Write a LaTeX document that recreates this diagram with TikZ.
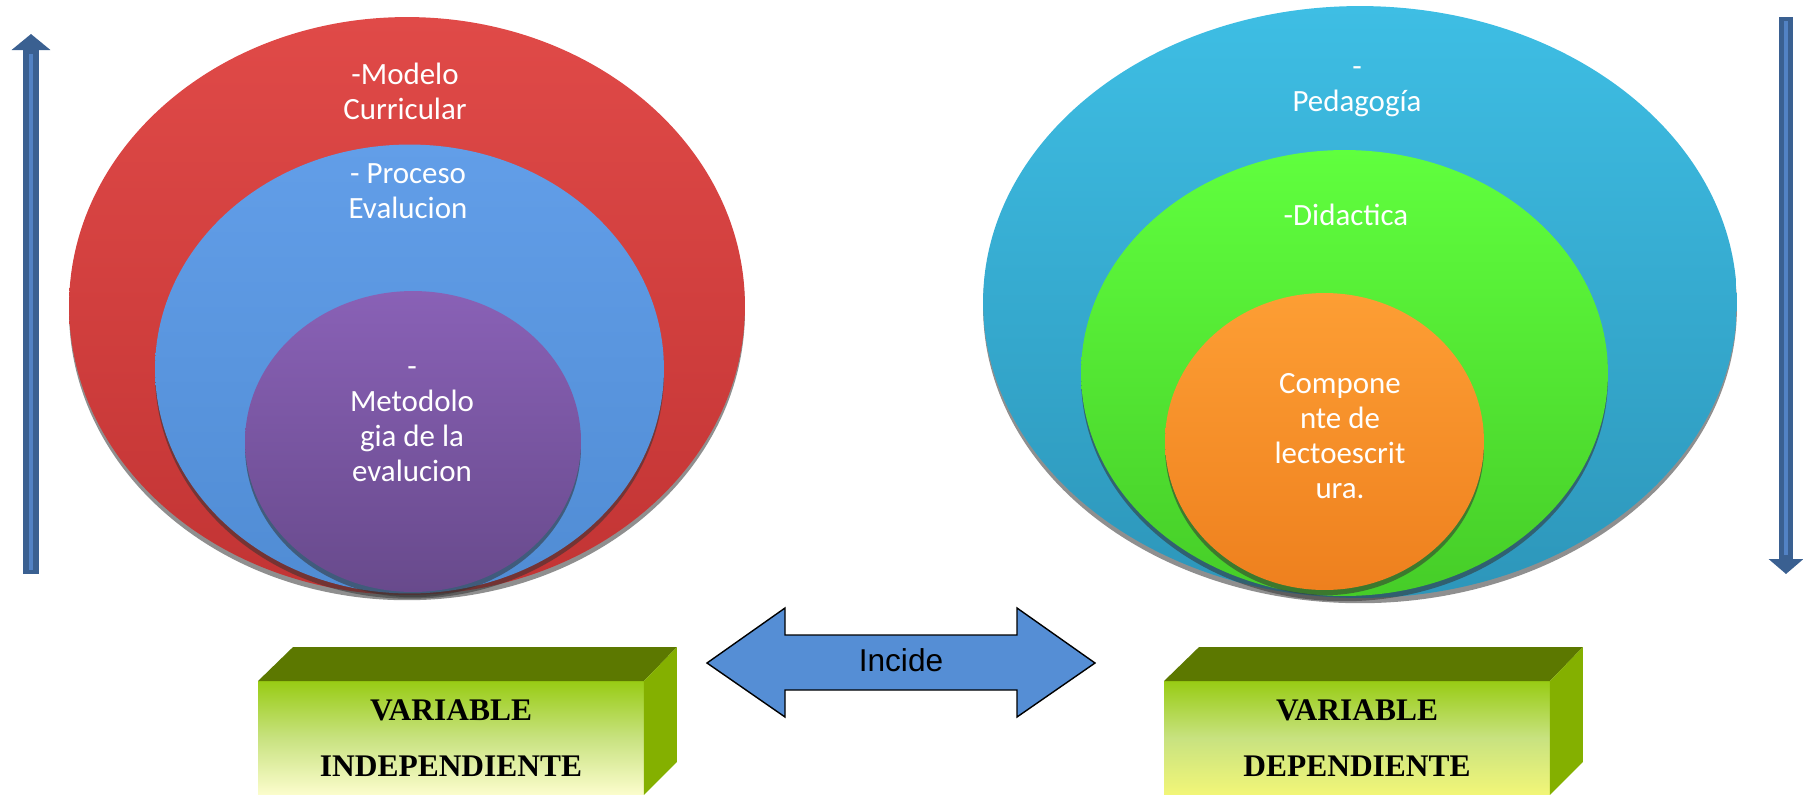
\documentclass[tikz,border=0pt]{standalone}
\usepackage{fontspec}
\setmainfont{Carlito}
\newfontfamily\timesfont{Liberation Serif}
\newfontfamily\arialfont{Liberation Sans}
\definecolor{ROJOa}{RGB}{224,74,72}
\definecolor{ROJOb}{RGB}{194,52,52}
\definecolor{AZULa}{RGB}{98,158,232}
\definecolor{AZULb}{RGB}{80,140,212}
\definecolor{LILAa}{RGB}{137,97,182}
\definecolor{LILAb}{RGB}{104,74,140}
\definecolor{CIANa}{RGB}{62,190,228}
\definecolor{CIANb}{RGB}{45,150,186}
\definecolor{VERDEa}{RGB}{96,255,62}
\definecolor{VERDEb}{RGB}{70,205,40}
\definecolor{NARANJAa}{RGB}{253,158,52}
\definecolor{NARANJAb}{RGB}{238,128,30}
\definecolor{FLECHA}{RGB}{58,96,145}
\definecolor{FLECHAc}{RGB}{82,130,196}
\definecolor{INCIDE}{RGB}{85,142,213}
\definecolor{CAJAa}{RGB}{152,204,20}
\definecolor{CAJAm}{RGB}{200,226,128}
\definecolor{CAJAb}{RGB}{252,253,205}
\definecolor{CAJAby}{RGB}{242,246,120}
\definecolor{TAPA}{RGB}{92,120,0}
\definecolor{LADO}{RGB}{132,176,0}
\usetikzlibrary{shapes.geometric,arrows.meta,calc,shadows}

\begin{document}
\begin{tikzpicture}[x=0.02cm,y=-0.02cm,
    ring/.style={ellipse,inner sep=0pt,outer sep=0pt,
                 drop shadow={shadow xshift=0pt,shadow yshift=-3pt,opacity=.55,fill=black!80}},
    ringtext/.style={anchor=north,inner sep=0pt,align=center,text=white,
                     font=\fontsize{17.6}{19.9}\selectfont},
    caja/.style={minimum width=7.72cm,minimum height=2.28cm,inner sep=0pt,outer sep=0pt,
                 align=center,font=\timesfont\bfseries\fontsize{17.9}{31.8}\selectfont}]
  \useasboundingbox (0,0) rectangle (1803,795);

  % left group
  \node[ring,top color=ROJOa,bottom color=ROJOb,minimum width=13.52cm,minimum height=11.56cm] (modelo) at (407,306) {};
  \node[ring,top color=AZULa,bottom color=AZULb,minimum width=10.18cm,minimum height=8.98cm] (proceso) at (409.5,369) {};
  \node[ring,top color=LILAa,bottom color=LILAb,minimum width=6.72cm,minimum height=6.02cm] (metodo) at (413,441.5) {};
  \node[ringtext] (modelotxt) at (405,60) {\strut-Modelo\\Curricular};
  \node[ringtext] (procesotxt) at (408,158.5) {\strut- Proceso\\Evalucion};
  \node[ringtext] (metodotxt) at (412,352) {\strut-\\Metodolo\\gia de la\\evalucion};

  % right group
  \node[ring,top color=CIANa,bottom color=CIANb,minimum width=15.08cm,minimum height=11.84cm] (pedagogia) at (1360,302) {};
  \node[ring,top color=VERDEa,bottom color=VERDEb,minimum width=10.54cm,minimum height=8.92cm] (didactica) at (1344.5,373) {};
  \node[ring,top color=NARANJAa,bottom color=NARANJAb,minimum width=6.38cm,minimum height=5.94cm] (componente) at (1324.5,441.5) {};
  \node[ringtext] (pedagogiatxt) at (1357,51.5) {\strut-\\Pedagogía};
  \node[ringtext] (didacticatxt) at (1346,200.5) {\strut-Didactica};
  \node[ringtext] (componentetxt) at (1340,368.5) {\strut Compone\\nte de\\lectoescrit\\ura.};

  % side arrows
  \coordinate (subeA) at (31,574);
  \coordinate (subeB) at (31,34);
  \coordinate (bajaA) at (1786,17);
  \coordinate (bajaB) at (1786,574);
  \draw[line width=0.34cm,draw=FLECHA,-{Triangle[width=0.76cm,length=0.32cm]}] (subeA) -- (subeB);
  \draw[line width=0.08cm,draw=FLECHAc] ($(subeA)+(0,-4)$) -- ($(subeB)+(0,20)$);
  \draw[line width=0.28cm,draw=FLECHA,-{Triangle[width=0.68cm,length=0.3cm]}] (bajaA) -- (bajaB);
  \draw[line width=0.07cm,draw=FLECHAc] ($(bajaA)+(0,4)$) -- ($(bajaB)+(0,-19)$);

  % variables
  \node[caja,top color=CAJAa,bottom color=CAJAb,middle color=CAJAm] (indep) at (451,738) {VARIABLE\\INDEPENDIENTE};
  \fill[TAPA] (indep.north west) -- (indep.north east) -- ++(33,-34) -- ($(indep.north west)+(35,-34)$) -- cycle;
  \fill[LADO] (indep.north east) -- ++(33,-34) -- ($(indep.south east)+(33,-33)$) -- (indep.south east) -- cycle;

  \node[caja,top color=CAJAa,bottom color=CAJAby,middle color=CAJAm] (dep) at (1357,738) {VARIABLE\\DEPENDIENTE};
  \fill[TAPA] (dep.north west) -- (dep.north east) -- ++(33,-34) -- ($(dep.north west)+(35,-34)$) -- cycle;
  \fill[LADO] (dep.north east) -- ++(33,-34) -- ($(dep.south east)+(33,-33)$) -- (dep.south east) -- cycle;

  \draw[draw=black,line width=0.8pt,fill=INCIDE,line join=miter]
    (707,663) -- (785,608) -- (785,635) -- (1017,635) -- (1017,608) -- (1095,663)
    -- (1017,717) -- (1017,690) -- (785,690) -- (785,717) -- cycle;
  \node[inner sep=0pt,font=\arialfont\fontsize{18}{20}\selectfont] (incide) at (901,660) {Incide};
\end{tikzpicture}
\end{document}
